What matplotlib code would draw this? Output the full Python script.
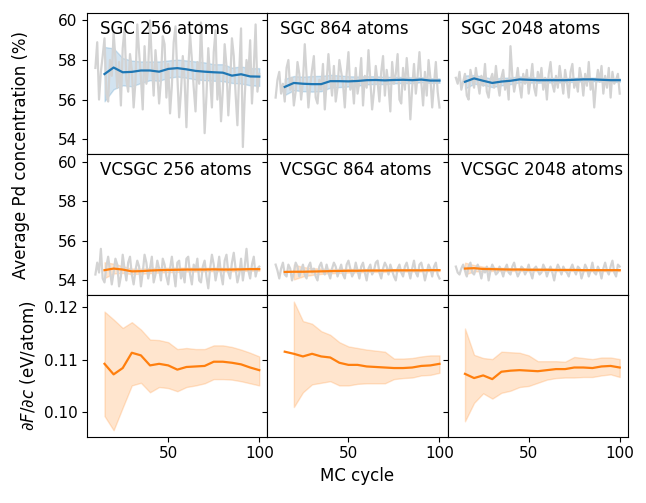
import numpy as np
import matplotlib
matplotlib.use("Agg")
import matplotlib.pyplot as plt

# MC cycles
cycles_raw = list(range(10, 101))
cycles_avg = list(range(15, 101, 5))

# raw Pd concentration per cycle (%)
sgc_256_raw = [57.6, 58.9, 56.0, 57.4, 58.2, 59.1, 56.3, 55.9, 58.0, 57.2,
               59.4, 58.1, 56.6, 57.9, 55.7, 58.6, 59.6, 57.0, 56.4, 58.3,
               57.5, 55.6, 56.9, 59.8, 58.4, 57.1, 55.5, 58.7, 56.8, 57.6,
               60.0, 57.9, 56.2, 58.5, 57.3, 55.8, 57.0, 59.2, 58.8, 56.1,
               57.8, 55.3, 56.7, 58.9, 59.7, 57.2, 55.1, 56.4, 58.2, 57.0,
               54.6, 57.5, 59.3, 58.0, 56.6, 55.4, 57.9, 56.8, 59.9, 57.4,
               54.3, 56.2, 58.6, 57.1, 55.6, 58.4, 59.5, 56.0, 57.3, 54.9,
               56.5, 58.8, 57.7, 55.2, 56.8, 59.1, 58.2, 56.3, 54.7, 57.4,
               59.6, 53.6, 56.1, 58.0, 57.2, 59.0, 55.8, 57.6, 59.8, 56.4,
               57.3]
sgc_864_raw = [56.1, 57.0, 57.4, 56.3, 56.8, 55.9, 57.6, 58.0, 56.5, 57.1,
               55.7, 56.4, 57.9, 57.3, 56.0, 56.9, 58.8, 57.2, 55.6, 56.7,
               57.5, 58.2, 56.1, 55.8, 57.0, 56.5, 57.8, 55.5, 56.9, 58.3,
               57.1, 56.2, 57.7, 55.9, 56.6, 58.0, 57.4, 56.8, 55.6, 57.3,
               58.4, 56.5, 57.0, 55.8, 57.6, 56.3, 56.9, 58.1, 55.7, 57.2,
               56.6, 58.5, 57.0, 55.5, 56.4, 57.7, 56.9, 55.9, 57.4, 58.2,
               56.2, 57.5, 56.7, 55.4, 57.9, 56.8, 57.3, 58.3, 56.0, 55.8,
               57.6, 56.5, 58.1, 57.0, 55.0, 56.6, 57.8, 56.3, 57.2, 58.4,
               56.9, 55.7, 57.4, 56.2, 58.0, 57.1, 55.6, 56.8, 57.9, 56.4,
               55.6]
sgc_2048_raw = [57.1, 56.8, 57.4, 56.5, 56.9, 57.3, 56.2, 56.0, 57.5, 57.0,
                56.6, 57.6, 56.9, 56.3, 57.2, 56.7, 57.8, 56.4, 56.1, 57.0,
                57.3, 56.6, 57.7, 56.8, 56.2, 57.1, 57.5, 56.5, 57.0, 56.0,
                58.7, 57.2, 56.4, 56.9, 57.6, 56.7, 56.1, 57.3, 56.8, 57.5,
                56.3, 57.0, 57.8, 56.6, 56.2, 57.4, 56.9, 57.6, 56.5, 57.1,
                56.0, 57.3, 57.9, 56.8, 56.4, 57.2, 56.6, 57.7, 57.0, 56.3,
                57.5, 56.9, 56.1, 57.4, 57.8, 56.6, 57.0, 56.4, 57.6, 57.1,
                56.2, 57.3, 56.7, 57.9, 56.5, 57.0, 55.6, 56.8, 57.5, 56.9,
                57.7, 56.3, 57.2, 56.6, 57.6, 56.1, 57.4, 56.8, 57.0, 57.3,
                56.3]
vcsgc_256_raw = [54.3, 54.9, 54.4, 55.6, 54.1, 53.9, 54.7, 55.2, 54.5, 53.8,
                 54.4, 55.1, 54.8, 53.7, 54.2, 55.3, 54.6, 54.0, 54.9, 55.2,
                 54.3, 53.8, 54.5, 55.0, 54.7, 53.7, 54.4, 55.3, 54.9, 54.1,
                 54.6, 55.2, 53.9, 54.3, 55.0, 54.6, 54.0, 55.1, 54.8, 54.2,
                 53.8, 54.6, 55.2, 54.4, 53.7, 54.9, 55.0, 54.1, 54.5, 53.9,
                 55.1, 55.2, 54.3, 53.8, 54.8, 54.5, 55.1, 54.0, 53.9, 54.7,
                 55.0, 54.2, 53.6, 54.6, 55.3, 54.8, 54.0, 54.5, 55.2, 54.3,
                 53.8, 55.0, 55.3, 54.4, 54.1, 54.9, 55.4, 54.6, 53.9, 54.3,
                 55.1, 54.0, 54.7, 55.6, 54.5, 54.1, 54.8, 55.2, 54.2, 54.6,
                 54.7]
vcsgc_864_raw = [54.8, 54.5, 54.1, 54.6, 54.9, 54.3, 54.2, 54.8, 54.6, 54.0,
                 54.4, 54.9, 54.7, 54.2, 54.5, 54.8, 54.3, 54.1, 54.7, 54.9,
                 54.4, 54.6, 54.2, 54.0, 54.7, 54.9, 54.5, 54.3, 54.8, 54.4,
                 54.1, 54.6, 54.9, 54.7, 54.2, 54.5, 54.8, 54.3, 54.1, 54.8,
                 55.0, 54.6, 54.2, 54.4, 54.9, 54.5, 54.1, 54.7, 54.9, 54.4,
                 54.0, 54.6, 54.8, 54.3, 54.5, 54.9, 55.0, 54.4, 54.1, 54.6,
                 54.9, 54.7, 54.3, 54.8, 54.5, 54.2, 54.0, 54.6, 54.8, 54.4,
                 54.2, 54.7, 54.9, 54.5, 54.1, 54.6, 55.0, 54.4, 54.2, 54.8,
                 54.9, 54.5, 54.0, 54.4, 54.8, 54.6, 54.2, 54.7, 54.9, 54.3,
                 54.1]
vcsgc_2048_raw = [54.7, 54.4, 54.3, 54.6, 54.8, 54.5, 54.2, 54.7, 54.9, 54.4,
                  54.3, 54.6, 54.8, 54.5, 54.1, 54.6, 54.4, 54.7, 54.0, 54.5,
                  54.8, 54.6, 54.3, 54.4, 54.7, 54.5, 54.2, 54.6, 54.8, 54.4,
                  54.3, 54.7, 54.9, 54.5, 54.2, 54.4, 54.7, 54.6, 54.3, 54.5,
                  54.8, 54.4, 54.1, 54.6, 54.7, 54.5, 54.3, 54.4, 54.8, 54.6,
                  54.2, 54.5, 54.7, 54.4, 54.0, 54.5, 54.8, 54.6, 54.3, 54.7,
                  54.5, 54.4, 54.2, 54.6, 54.8, 54.5, 54.3, 54.7, 54.6, 54.1,
                  54.4, 54.8, 54.6, 54.2, 54.5, 54.9, 54.4, 54.3, 54.7, 54.5,
                  54.1, 54.6, 54.9, 54.5, 54.3, 54.7, 55.0, 54.4, 54.2, 54.8,
                  54.7]

# running averages with upper / lower bounds
sgc_256_mean = [57.29, 57.62, 57.38, 57.40, 57.47, 57.47, 57.41, 57.55, 57.59, 57.53, 57.45, 57.41, 57.38, 57.36, 57.21, 57.28, 57.17, 57.16]
sgc_256_hi = [58.66, 58.59, 58.10, 57.97, 57.93, 57.93, 57.93, 57.98, 58.02, 57.98, 57.93, 57.88, 57.79, 57.79, 57.62, 57.67, 57.59, 57.59]
sgc_256_lo = [55.91, 56.52, 56.72, 56.67, 56.84, 56.98, 56.95, 57.10, 57.16, 57.10, 57.02, 56.98, 56.95, 56.93, 56.84, 56.81, 56.72, 56.69]

sgc_864_mean = [56.64, 56.84, 56.80, 56.78, 56.78, 56.93, 56.93, 56.92, 56.94, 56.98, 56.99, 56.97, 56.99, 57.00, 56.98, 57.01, 56.96, 56.96]
sgc_864_hi = [57.05, 57.19, 57.16, 57.19, 57.20, 57.25, 57.22, 57.18, 57.17, 57.18, 57.18, 57.15, 57.15, 57.14, 57.12, 57.13, 57.08, 57.07]
sgc_864_lo = [56.23, 56.47, 56.42, 56.40, 56.42, 56.60, 56.63, 56.66, 56.70, 56.77, 56.79, 56.78, 56.82, 56.84, 56.83, 56.88, 56.84, 56.85]

sgc_2048_mean = [56.90, 57.07, 56.95, 56.84, 56.91, 56.95, 57.02, 57.00, 56.98, 56.98, 56.98, 56.98, 57.00, 57.02, 57.02, 57.00, 56.98, 56.98]
sgc_2048_hi = [57.22, 57.24, 57.16, 57.05, 57.10, 57.12, 57.17, 57.14, 57.11, 57.10, 57.10, 57.09, 57.10, 57.11, 57.11, 57.09, 57.07, 57.07]
sgc_2048_lo = [56.55, 56.80, 56.74, 56.63, 56.72, 56.78, 56.87, 56.86, 56.85, 56.86, 56.86, 56.87, 56.90, 56.92, 56.93, 56.91, 56.89, 56.89]

vcsgc_256_mean = [54.52, 54.60, 54.55, 54.46, 54.47, 54.50, 54.52, 54.53, 54.54, 54.55, 54.55, 54.55, 54.56, 54.55, 54.55, 54.56, 54.57, 54.57]
vcsgc_256_hi = [54.92, 54.85, 54.72, 54.60, 54.60, 54.63, 54.64, 54.64, 54.65, 54.65, 54.65, 54.64, 54.65, 54.64, 54.64, 54.64, 54.65, 54.65]
vcsgc_256_lo = [54.12, 54.35, 54.38, 54.32, 54.34, 54.37, 54.40, 54.42, 54.43, 54.45, 54.45, 54.46, 54.47, 54.46, 54.46, 54.48, 54.49, 54.49]

vcsgc_864_mean = [54.43, 54.44, 54.44, 54.45, 54.46, 54.47, 54.48, 54.49, 54.49, 54.50, 54.50, 54.50, 54.51, 54.51, 54.51, 54.51, 54.52, 54.52]
vcsgc_864_hi = [np.nan, 54.80, 54.68, 54.62, 54.60, 54.58, 54.58, 54.58, 54.57, 54.57, 54.57, 54.57, 54.57, 54.57, 54.57, 54.57, 54.57, 54.57]
vcsgc_864_lo = [np.nan, 54.05, 54.20, 54.28, 54.33, 54.36, 54.38, 54.40, 54.41, 54.43, 54.43, 54.43, 54.45, 54.45, 54.45, 54.45, 54.47, 54.47]

vcsgc_2048_mean = [54.60, 54.62, 54.58, 54.57, 54.56, 54.55, 54.55, 54.54, 54.54, 54.54, 54.53, 54.53, 54.53, 54.52, 54.52, 54.52, 54.52, 54.52]
vcsgc_2048_hi = [54.90, 54.78, 54.70, 54.66, 54.64, 54.62, 54.62, 54.61, 54.60, 54.60, 54.59, 54.58, 54.58, 54.57, 54.57, 54.57, 54.57, 54.57]
vcsgc_2048_lo = [54.30, 54.46, 54.46, 54.48, 54.48, 54.48, 54.48, 54.47, 54.48, 54.48, 54.47, 54.48, 54.48, 54.47, 54.47, 54.47, 54.47, 54.47]

# dF/dc (eV/atom)
dfdc_256_mean = [0.1092, 0.1072, 0.1084, 0.1113, 0.1108, 0.1089, 0.1092, 0.1089, 0.1081, 0.1086, 0.1087, 0.1088, 0.1096, 0.1096, 0.1094, 0.1091, 0.1085, 0.1080]
dfdc_256_hi = [0.1191, 0.1176, 0.1160, 0.1171, 0.1157, 0.1138, 0.1137, 0.1133, 0.1120, 0.1122, 0.1120, 0.1120, 0.1127, 0.1127, 0.1124, 0.1119, 0.1113, 0.1106]
dfdc_256_lo = [0.0993, 0.0966, 0.1009, 0.1051, 0.1056, 0.1038, 0.1048, 0.1046, 0.1040, 0.1048, 0.1051, 0.1055, 0.1063, 0.1063, 0.1062, 0.1059, 0.1055, 0.1051]

dfdc_864_mean = [0.1115, 0.1111, 0.1106, 0.1111, 0.1106, 0.1104, 0.1094, 0.1090, 0.1090, 0.1087, 0.1086, 0.1085, 0.1084, 0.1084, 0.1085, 0.1088, 0.1089, 0.1092]
dfdc_864_hi = [np.nan, 0.1210, 0.1173, 0.1168, 0.1154, 0.1147, 0.1133, 0.1125, 0.1122, 0.1119, 0.1117, 0.1115, 0.1102, 0.1102, 0.1103, 0.1106, 0.1108, 0.1108]
dfdc_864_lo = [np.nan, 0.1010, 0.1038, 0.1053, 0.1056, 0.1059, 0.1051, 0.1051, 0.1054, 0.1055, 0.1055, 0.1055, 0.1063, 0.1065, 0.1066, 0.1070, 0.1071, 0.1075]

dfdc_2048_mean = [0.1073, 0.1065, 0.1070, 0.1063, 0.1077, 0.1079, 0.1080, 0.1079, 0.1078, 0.1080, 0.1082, 0.1082, 0.1085, 0.1085, 0.1084, 0.1087, 0.1088, 0.1085]
dfdc_2048_hi = [0.1159, 0.1109, 0.1103, 0.1101, 0.1115, 0.1114, 0.1113, 0.1108, 0.1097, 0.1097, 0.1097, 0.1096, 0.1105, 0.1103, 0.1101, 0.1104, 0.1104, 0.1101]
dfdc_2048_lo = [0.0983, 0.1018, 0.1036, 0.1026, 0.1037, 0.1041, 0.1048, 0.1050, 0.1056, 0.1062, 0.1065, 0.1066, 0.1066, 0.1067, 0.1067, 0.1070, 0.1072, 0.1067]

sizes = [256, 864, 2048]
conc_rows = [
    ("SGC", "C0", [sgc_256_raw, sgc_864_raw, sgc_2048_raw],
     [sgc_256_mean, sgc_864_mean, sgc_2048_mean],
     [sgc_256_hi, sgc_864_hi, sgc_2048_hi],
     [sgc_256_lo, sgc_864_lo, sgc_2048_lo]),
    ("VCSGC", "C1", [vcsgc_256_raw, vcsgc_864_raw, vcsgc_2048_raw],
     [vcsgc_256_mean, vcsgc_864_mean, vcsgc_2048_mean],
     [vcsgc_256_hi, vcsgc_864_hi, vcsgc_2048_hi],
     [vcsgc_256_lo, vcsgc_864_lo, vcsgc_2048_lo]),
]
dfdc_mean = [dfdc_256_mean, dfdc_864_mean, dfdc_2048_mean]
dfdc_hi = [dfdc_256_hi, dfdc_864_hi, dfdc_2048_hi]
dfdc_lo = [dfdc_256_lo, dfdc_864_lo, dfdc_2048_lo]

fig, axes = plt.subplots(3, 3, figsize=(6.46, 5.03), dpi=100, sharex=True, sharey='row')
fig.subplots_adjust(left=0.135, right=0.972, top=0.975, bottom=0.132, hspace=0, wspace=0)

for r, (ens, col, raws, means, his, los) in enumerate(conc_rows):
    for c in range(3):
        ax = axes[r, c]
        ax.plot(cycles_raw, raws[c], color='lightgray', lw=1.6)
        ax.fill_between(cycles_avg, los[c], his[c], color=col, alpha=0.2)
        ax.plot(cycles_avg, means[c], color=col, lw=1.6)
        ax.text(0.072, 0.85, f"{ens} {sizes[c]} atoms", transform=ax.transAxes, fontsize=12)
        ax.set_ylim(53.25, 60.4)
        ax.set_yticks([54, 56, 58, 60])

for c in range(3):
    ax = axes[2, c]
    ax.fill_between(cycles_avg, dfdc_lo[c], dfdc_hi[c], color='C1', alpha=0.2)
    ax.plot(cycles_avg, dfdc_mean[c], color='C1', lw=1.6)
    ax.set_ylim(0.0954, 0.1222)
    ax.set_yticks([0.10, 0.11, 0.12])

axes[2, 0].set_xlim(5.5, 104.5)
axes[2, 0].set_xticks([50, 100])
for ax in axes.flat:
    ax.tick_params(labelsize=11)

axes[2, 1].set_xlabel("MC cycle", fontsize=12)
axes[2, 0].set_ylabel(r"$\partial F / \partial c$ (eV/atom)", fontsize=12)
fig.text(0.033, 0.692, "Average Pd concentration (%)", rotation=90, fontsize=12, ha='center', va='center')

fig.savefig("out.png", dpi=100)
